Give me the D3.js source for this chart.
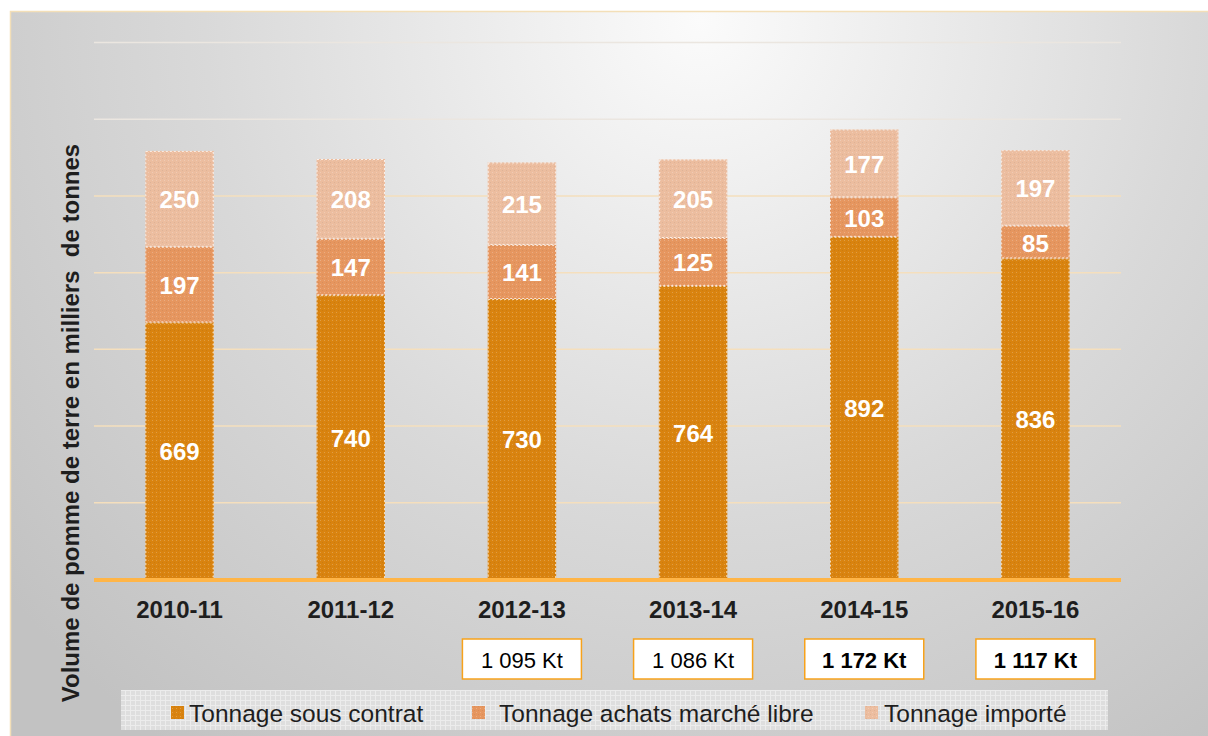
<!DOCTYPE html>
<html>
<head>
<meta charset="utf-8">
<script src="https://cdn.jsdelivr.net/npm/d3@7"></script>
<style>
  html, body { margin: 0; padding: 0; background: #fff; }
  svg { display: block; font-family: "Liberation Sans", Arial, sans-serif; }
</style>
</head>
<body>
<svg id="chart" width="1208" height="736"></svg>
<script>
// Campaigns and stacked tonnages (thousand tonnes)
const campaigns = ["2010-11", "2011-12", "2012-13", "2013-14", "2014-15", "2015-16"];
const sousContrat = [669, 740, 730, 764, 892, 836];
const marcheLibre = [197, 147, 141, 125, 103, 85];
const importe = [250, 208, 215, 205, 177, 197];
const totals = [null, null, "1 095 Kt", "1 086 Kt", "1 172 Kt", "1 117 Kt"];
const totalsBold = [false, false, false, false, true, true];
const seriesNames = ["Tonnage sous contrat", "Tonnage achats marché libre", "Tonnage importé"];
const seriesColors = ["#d9830f", "#e6965f", "#ecbd9f"];
const yTicks = [0, 200, 400, 600, 800, 1000, 1200, 1400];
const yTitle = "Volume de pomme de terre en milliers  de tonnes";

const svg = d3.select("#chart");
const defs = svg.append("defs");

// Background: light in the upper middle, greyer towards the corners
const bg = defs.append("radialGradient").attr("id", "bgGrad")
  .attr("gradientUnits", "userSpaceOnUse")
  .attr("cx", 700).attr("cy", 20).attr("r", 900);
bg.append("stop").attr("offset", "0").attr("stop-color", "#fbfbfb");
bg.append("stop").attr("offset", "0.55").attr("stop-color", "#d9d9d9");
bg.append("stop").attr("offset", "1").attr("stop-color", "#c2c2c2");

// Fine dot texture used on the bars
const dots = defs.append("pattern").attr("id", "dots")
  .attr("width", 4).attr("height", 4).attr("patternUnits", "userSpaceOnUse");
dots.append("rect").attr("x", 0).attr("y", 0).attr("width", 1).attr("height", 1)
  .attr("fill", "#fff").attr("opacity", 0.22);
dots.append("rect").attr("x", 2).attr("y", 2).attr("width", 1).attr("height", 1)
  .attr("fill", "#000").attr("opacity", 0.06);

// Grid texture of the legend strip
const grid = defs.append("pattern").attr("id", "legGrid")
  .attr("width", 5).attr("height", 5).attr("patternUnits", "userSpaceOnUse");
grid.append("rect").attr("width", 5).attr("height", 5).attr("fill", "#dedede");
grid.append("rect").attr("width", 5).attr("height", 1).attr("fill", "#ececec");
grid.append("rect").attr("width", 1).attr("height", 5).attr("fill", "#ececec");

// Frame
svg.append("rect").attr("x", 10.5).attr("y", 11.5).attr("width", 1210).attr("height", 740)
  .attr("fill", "url(#bgGrad)").attr("stroke", "#f3dfb8").attr("stroke-width", 1.5);

const plot = { left: 94, right: 1121, top: 42, bottom: 579 };

const x = d3.scaleBand().domain(campaigns).range([plot.left, plot.right]).paddingInner(0.6).paddingOuter(0.3);
const y = d3.scaleLinear().domain([0, 1400]).range([plot.bottom, plot.top]);

// Horizontal gridlines
const yAxis = d3.axisLeft(y).tickValues(yTicks.slice(1)).tickSize(-(plot.right - plot.left)).tickFormat("");
const gy = svg.append("g").attr("transform", `translate(${plot.left},0)`).call(yAxis);
gy.select(".domain").remove();
gy.selectAll(".tick line").attr("stroke", (d, i) => i >= 5 ? "#ebe6e0" : "#f5dfbd").attr("stroke-width", 1.5);

// Stacked bars
const rows = campaigns.map((c, i) => ({ c, s0: sousContrat[i], s1: marcheLibre[i], s2: importe[i] }));
const stack = d3.stack().keys(["s0", "s1", "s2"]);
const layers = stack(rows);

layers.forEach((layer, li) => {
  const g = svg.append("g");
  layer.forEach(d => {
    const x0 = x(d.data.c), w = x.bandwidth();
    const y0 = y(d[1]), h = y(d[0]) - y(d[1]);
    g.append("rect").attr("x", x0).attr("y", y0).attr("width", w).attr("height", h)
      .attr("fill", seriesColors[li]);
    g.append("rect").attr("x", x0).attr("y", y0).attr("width", w).attr("height", h)
      .attr("fill", "url(#dots)");
    g.append("rect").attr("x", x0 + 0.5).attr("y", y0 + 0.5).attr("width", w - 1).attr("height", h - 1)
      .attr("fill", "none").attr("stroke", "#ffffff").attr("stroke-opacity", 0.75)
      .attr("stroke-width", 1).attr("stroke-dasharray", "2,2");
    g.append("text")
      .attr("x", x0 + w / 2).attr("y", (y0 + y(d[0])) / 2 + 1)
      .attr("text-anchor", "middle").attr("dominant-baseline", "central")
      .attr("fill", "#ffffff").attr("font-weight", "bold").attr("font-size", 24)
      .text(d[1] - d[0]);
  });
});

// Baseline
svg.append("line").attr("x1", plot.left).attr("x2", plot.right)
  .attr("y1", plot.bottom + 1).attr("y2", plot.bottom + 1)
  .attr("stroke", "#ffb547").attr("stroke-width", 4);

// Category labels
const xAxis = d3.axisBottom(x).tickSize(0).tickPadding(20);
const gx = svg.append("g").attr("transform", `translate(0,${plot.bottom + 2})`).call(xAxis);
gx.select(".domain").remove();
gx.selectAll("text").attr("font-size", 24).attr("font-weight", "bold")
  .attr("fill", "#1e1e1e").attr("font-family", "Liberation Sans, Arial, sans-serif");

// Total boxes
campaigns.forEach((c, i) => {
  if (!totals[i]) return;
  const cx = x(c) + x.bandwidth() / 2;
  const bw = 119, bh = 40, by = 639;
  svg.append("rect").attr("x", cx - bw / 2).attr("y", by).attr("width", bw).attr("height", bh)
    .attr("fill", "#ffffff").attr("stroke", "#f7a21b").attr("stroke-width", 1.5);
  svg.append("text").attr("x", cx).attr("y", by + bh / 2 + 1)
    .attr("text-anchor", "middle").attr("dominant-baseline", "central")
    .attr("font-size", 22).attr("font-weight", totalsBold[i] ? "bold" : "normal")
    .attr("fill", "#000").text(totals[i]);
});

// Y-axis title
svg.append("text")
  .attr("transform", `translate(79,423) rotate(-90)`)
  .attr("text-anchor", "middle")
  .attr("font-size", 24).attr("font-weight", "bold").attr("fill", "#1e1e1e")
  .style("white-space", "pre")
  .text(yTitle);

// Legend
svg.append("rect").attr("x", 121).attr("y", 690).attr("width", 987).attr("height", 40)
  .attr("fill", "url(#legGrid)");
const legMarkX = [171, 472, 865];
const legTextX = [189, 499, 884];
seriesNames.forEach((n, i) => {
  svg.append("rect").attr("x", legMarkX[i]).attr("y", 706).attr("width", 13).attr("height", 13)
    .attr("fill", seriesColors[i]);
  svg.append("rect").attr("x", legMarkX[i]).attr("y", 706).attr("width", 13).attr("height", 13)
    .attr("fill", "url(#dots)");
  svg.append("text").attr("x", legTextX[i]).attr("y", 713).attr("dominant-baseline", "central")
    .attr("font-size", 24.5).attr("fill", "#1e1e1e").text(n);
});
</script>
</body>
</html>
